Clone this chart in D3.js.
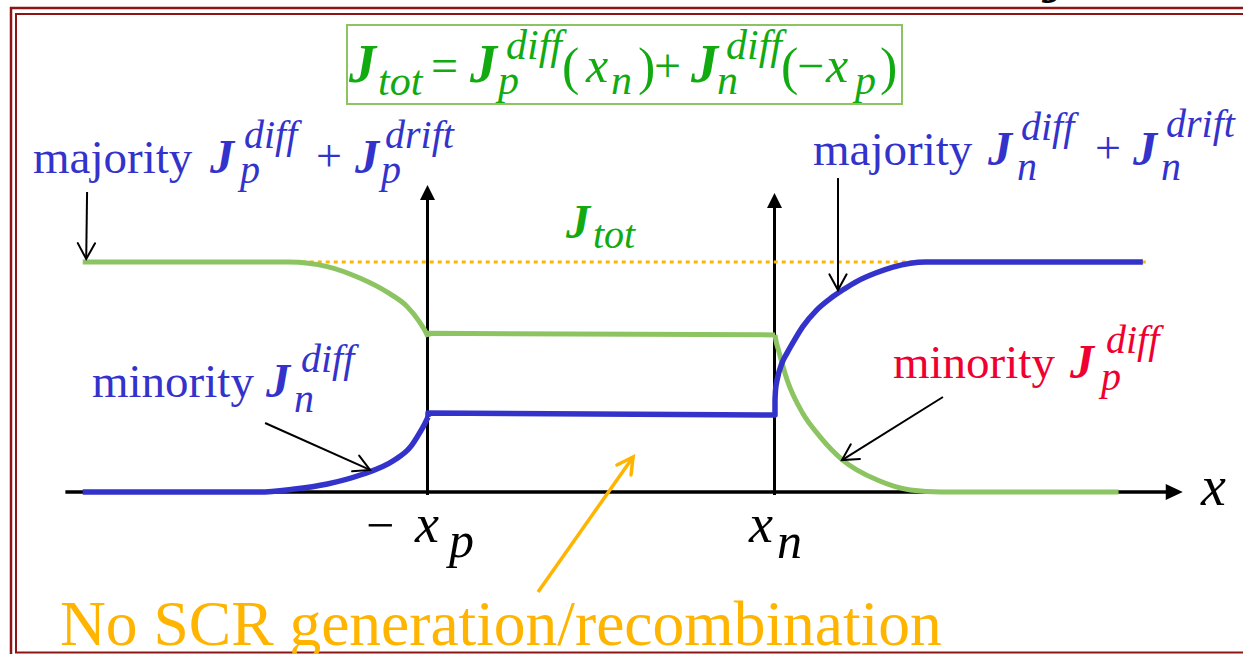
<!DOCTYPE html>
<html>
<head>
<meta charset="utf-8">
<script src="https://cdn.jsdelivr.net/npm/d3@7"></script>
<style>
  body { margin: 0; background: #fff; }
  svg { display: block; }
</style>
</head>
<body>
<svg id="chart" width="1243" height="654"></svg>
<script>
// Position across the junction (−x_p = −1, x_n = +1) and current density (J_tot = 1)
const holeNeutralP = [[-2.99, 1], [-1.8, 1], [-1.58, 0.98], [-1.39, 0.929], [-1.24, 0.871], [-1.12, 0.806], [-1.05, 0.741], [-1.02, 0.705], [-1.0, 0.675]];
const holeSCR      = [[-1, 0.675], [-1, 0.69], [1, 0.683]];
const holeNeutralN = [[1, 0.683], [1.005, 0.66], [1.02, 0.617], [1.07, 0.487], [1.16, 0.342], [1.26, 0.24], [1.39, 0.139], [1.59, 0.052], [1.78, 0.009], [1.96, 0], [2.98, 0]];
const elecNeutralP = [[-2.99, 0], [-1.97, 0], [-1.78, 0.012], [-1.58, 0.035], [-1.39, 0.074], [-1.2, 0.136], [-1.1, 0.197], [-1.05, 0.255], [-1.02, 0.295], [-1, 0.326]];
const elecSCR      = [[-1, 0.326], [-1, 0.343], [1, 0.335], [1, 0.40]];
const elecNeutralN = [[1, 0.40], [1.003, 0.443], [1.013, 0.49], [1.04, 0.56], [1.07, 0.605], [1.1, 0.645], [1.16, 0.719], [1.24, 0.791], [1.32, 0.842], [1.39, 0.878], [1.47, 0.915], [1.58, 0.952], [1.68, 0.978], [1.87, 1], [3.12, 1]];
const jTot = 1;
const jTotSpan = [-1.82, 3.15];
const xAxisSpan = [-3.09, 3.35];
const boundaries = [{ x: -1, top: 1.335 }, { x: 1, top: 1.30 }];

// Annotation arrows: [tail, tip] in (position, J) units
const pointers = [
  { from: [-2.965, 1.304], to: [-2.97, 1.013], color: "#000", w: 2 },
  { from: [1.363, 1.365], to: [1.363, 0.878], color: "#000", w: 2 },
  { from: [-1.939, 0.30], to: [-1.334, 0.096], color: "#000", w: 2 },
  { from: [1.968, 0.413], to: [1.386, 0.139], color: "#000", w: 2 },
  { from: [-0.366, -0.435], to: [0.182, 0.152], color: "#ffb400", w: 3.5 }
];

const SERIF = '"Liberation Serif", "Times New Roman", serif';
const BLUE = "#3333cc", GREEN = "#8dc462", TEXTGREEN = "#11aa11", RED = "#f00030", ORANGE = "#ffb400";

const svg = d3.select("#chart");
const x = d3.scaleLinear().domain([-1, 1]).range([428, 775]);
const y = d3.scaleLinear().domain([0, 1]).range([492, 262]);

// Slide frame (double rule)
const frame = svg.append("g").attr("fill", "none").attr("stroke", "#8c1515");
frame.append("rect").attr("x", 11).attr("y", 8).attr("width", 1300).attr("height", 650).attr("stroke-width", 2.5);
frame.append("rect").attr("x", 16).attr("y", 14).attr("width", 1300).attr("height", 638.5).attr("stroke-width", 2);

// Slide title glyph, cropped by the top edge
svg.append("text").attr("x", 1042).attr("y", 3)
  .style("font-family", SERIF).style("font-size", "48px")
  .style("font-weight", "bold").style("font-style", "italic").attr("fill", "#000").text("J");

// Axes
const axes = svg.append("g");
axes.append("line").attr("x1", x(xAxisSpan[0])).attr("x2", x(xAxisSpan[1]) - 14)
  .attr("y1", y(0)).attr("y2", y(0)).attr("stroke", "#000").attr("stroke-width", 3.5);
axes.append("path").attr("fill", "#000")
  .attr("d", `M${x(xAxisSpan[1])},${y(0)} L${x(xAxisSpan[1]) - 17},${y(0) - 8} L${x(xAxisSpan[1]) - 17},${y(0) + 8} Z`);
boundaries.forEach(b => {
  const bx = x(b.x) - 0.5;
  axes.append("line").attr("x1", bx).attr("x2", bx).attr("y1", y(0) + 3).attr("y2", y(b.top) + 12)
    .attr("stroke", "#000").attr("stroke-width", 3);
  axes.append("path").attr("fill", "#000")
    .attr("d", `M${bx},${y(b.top)} L${bx - 7.5},${y(b.top) + 15} L${bx + 7.5},${y(b.top) + 15} Z`);
});

// Total current level
svg.append("line").attr("x1", x(jTotSpan[0])).attr("x2", x(jTotSpan[1]))
  .attr("y1", y(jTot)).attr("y2", y(jTot))
  .attr("stroke", ORANGE).attr("stroke-width", 3).attr("stroke-dasharray", "4,4");

// Current components
const smooth = d3.line().x(d => x(d[0])).y(d => y(d[1])).curve(d3.curveMonotoneX);
const straight = d3.line().x(d => x(d[0])).y(d => y(d[1]));
const curves = svg.append("g").attr("fill", "none").attr("stroke-linejoin", "round");
[[holeNeutralP, smooth], [holeSCR, straight], [holeNeutralN, smooth]].forEach(([d, gen]) =>
  curves.append("path").attr("d", gen(d)).attr("stroke", GREEN).attr("stroke-width", 5));
[[elecNeutralP, smooth], [elecSCR, straight], [elecNeutralN, smooth]].forEach(([d, gen]) =>
  curves.append("path").attr("d", gen(d)).attr("stroke", BLUE).attr("stroke-width", 5.5));

// Pointer arrows with open heads
function openArrow(g, p0, p1, color, w) {
  const [x0, y0, x1, y1] = [x(p0[0]), y(p0[1]), x(p1[0]), y(p1[1])];
  const a = Math.atan2(y1 - y0, x1 - x0), len = 18, spread = 0.5;
  g.append("line").attr("x1", x0).attr("y1", y0).attr("x2", x1).attr("y2", y1)
    .attr("stroke", color).attr("stroke-width", w);
  g.append("path").attr("fill", "none").attr("stroke", color).attr("stroke-width", w)
    .attr("stroke-linecap", "round").attr("stroke-linejoin", "miter")
    .attr("d", `M${x1 - len * Math.cos(a - spread)},${y1 - len * Math.sin(a - spread)} L${x1},${y1} L${x1 - len * Math.cos(a + spread)},${y1 - len * Math.sin(a + spread)}`);
}
const arrows = svg.append("g");
pointers.forEach(p => openArrow(arrows, p.from, p.to, p.color, p.w));

// Math-style labels: each piece placed on its own baseline
function label(pieces, color) {
  const g = svg.append("g").attr("fill", color);
  pieces.forEach(([t, px, py, size, style]) => {
    g.append("text")
      .attr("x", px).attr("y", py)
      .style("font-family", SERIF)
      .style("font-size", size + "px")
      .style("font-style", style.includes("i") ? "italic" : "normal")
      .style("font-weight", style.includes("b") ? "bold" : "normal")
      .text(t);
  });
}

// Formula box
svg.append("rect").attr("x", 347).attr("y", 25).attr("width", 555).attr("height", 79)
  .attr("fill", "none").attr("stroke", GREEN).attr("stroke-width", 2);
label([
  ["J", 349, 82, 54, "bi"], ["tot", 378, 95, 42, "i"],
  ["=", 431, 82, 48, ""],
  ["J", 470, 82, 54, "bi"], ["diff", 506, 59, 42, "i"], ["p", 498, 94, 42, "i"],
  ["(", 562, 84, 52, ""], ["x", 586, 82, 50, "i"], ["n", 611, 94, 42, "i"], [")", 638, 84, 52, ""],
  ["+", 654, 82, 48, ""],
  ["J", 691, 82, 54, "bi"], ["diff", 726, 59, 42, "i"], ["n", 717, 94, 42, "i"],
  ["(", 781, 84, 52, ""], ["\u2212", 797, 82, 48, ""], ["x", 826, 82, 50, "i"], ["p", 855, 94, 42, "i"], [")", 880, 84, 52, ""]
], TEXTGREEN);

// Majority carriers
label([
  ["majority", 33, 173, 47, ""],
  ["J", 210, 173, 48, "bi"], ["diff", 244, 148, 40, "i"], ["p", 240, 183, 40, "i"],
  ["+", 316, 171, 46, ""],
  ["J", 355, 173, 48, "bi"], ["drift", 385, 148, 40, "i"], ["p", 381, 183, 40, "i"]
], BLUE);
label([
  ["majority", 813, 165, 47, ""],
  ["J", 988, 165, 48, "bi"], ["diff", 1021, 140, 40, "i"], ["n", 1017, 180, 40, "i"],
  ["+", 1095, 163, 46, ""],
  ["J", 1133, 165, 48, "bi"], ["drift", 1166, 137, 40, "i"], ["n", 1161, 180, 40, "i"]
], BLUE);

// Minority carriers
label([
  ["minority", 92, 397, 47, ""],
  ["J", 266, 397, 48, "bi"], ["diff", 301, 372, 40, "i"], ["n", 294, 412, 40, "i"]
], BLUE);
label([
  ["minority", 893, 378, 47, ""],
  ["J", 1070, 378, 48, "bi"], ["diff", 1106, 353, 40, "i"], ["p", 1101, 390, 40, "i"]
], RED);

// Total current tag
label([["J", 566, 238, 48, "bi"], ["tot", 593, 248, 40, "i"]], TEXTGREEN);

// Edge markers and axis name
label([
  ["\u2212", 366, 542, 50, ""], ["x", x(-1) - 13, 542, 54, "i"], ["p", x(-1) + 21, 557, 50, "i"],
  ["x", x(1) - 26, 542, 54, "i"], ["n", x(1) + 2, 558, 50, "i"],
  ["x", 1201, 505, 56, "i"]
], "#000");

// Note below the diagram
label([["No SCR generation/recombination", 60, 645, 63.5, ""]], ORANGE);
</script>
</body>
</html>
